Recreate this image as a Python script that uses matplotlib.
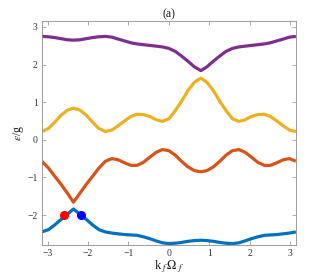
import matplotlib
matplotlib.use("Agg")
import matplotlib.pyplot as plt

k = [-3.14, -2.98, -2.83, -2.67, -2.51, -2.36, -2.20, -2.04, -1.88, -1.73, -1.57,
     -1.41, -1.26, -1.10, -0.94, -0.79, -0.63, -0.47, -0.31, -0.16, 0.00,
     0.16, 0.31, 0.47, 0.63, 0.79, 0.94, 1.10, 1.26, 1.41, 1.57,
     1.73, 1.88, 2.04, 2.20, 2.36, 2.51, 2.67, 2.83, 2.98, 3.14]

band4 = [2.75, 2.74, 2.72, 2.69, 2.66, 2.65, 2.66, 2.69, 2.72, 2.74, 2.75,
         2.73, 2.68, 2.63, 2.58, 2.55, 2.53, 2.51, 2.49, 2.47, 2.43,
         2.35, 2.23, 2.09, 1.94, 1.84, 1.94, 2.09, 2.23, 2.35, 2.43,
         2.47, 2.49, 2.51, 2.53, 2.55, 2.58, 2.63, 2.68, 2.73, 2.75]

band3 = [0.22, 0.30, 0.46, 0.65, 0.79, 0.84, 0.79, 0.65, 0.46, 0.30, 0.22,
         0.26, 0.37, 0.50, 0.62, 0.68, 0.67, 0.62, 0.53, 0.49, 0.56,
         0.78, 1.02, 1.31, 1.53, 1.64, 1.53, 1.31, 1.02, 0.78, 0.56,
         0.49, 0.53, 0.62, 0.67, 0.68, 0.62, 0.50, 0.37, 0.26, 0.22]

band2 = [-0.57, -0.75, -0.96, -1.18, -1.42, -1.66, -1.42, -1.18, -0.96, -0.75, -0.57,
         -0.50, -0.53, -0.61, -0.68, -0.68, -0.60, -0.46, -0.33, -0.26, -0.29,
         -0.41, -0.57, -0.72, -0.82, -0.85, -0.82, -0.72, -0.57, -0.41, -0.29,
         -0.26, -0.33, -0.46, -0.60, -0.68, -0.68, -0.61, -0.53, -0.50, -0.57]

band1 = [-2.45, -2.39, -2.27, -2.12, -1.98, -1.84, -1.98, -2.12, -2.27, -2.39, -2.45,
         -2.48, -2.50, -2.52, -2.53, -2.54, -2.58, -2.63, -2.69, -2.74, -2.76,
         -2.75, -2.73, -2.70, -2.68, -2.67, -2.68, -2.70, -2.73, -2.75, -2.76,
         -2.74, -2.69, -2.63, -2.58, -2.54, -2.53, -2.52, -2.50, -2.48, -2.45]

red_pt = (-2.59, -2.0)
blue_pt = (-2.18, -2.0)

xticks = [-3, -2, -1, 0, 1, 2, 3]
yticks = [-2, -1, 0, 1, 2, 3]

plt.rcParams['font.family'] = ['Liberation Serif', 'DejaVu Serif']
plt.rcParams['mathtext.fontset'] = 'stix'

fig = plt.figure(figsize=(3.27, 2.76), dpi=100)
ax = fig.add_axes([0.128, 0.112, 0.777, 0.812])

lw = 2.3
ax.plot(k, band4, color='#7E2F8E', lw=lw, solid_capstyle='butt')
ax.plot(k, band3, color='#EDB120', lw=lw, solid_capstyle='butt')
ax.plot(k, band2, color='#D95319', lw=lw, solid_capstyle='butt')
ax.plot(k, band1, color='#0072BD', lw=lw, solid_capstyle='butt')
ax.plot([red_pt[0]], [red_pt[1]], 'o', color='#FF0000', ms=5.5, zorder=5)
ax.plot([blue_pt[0]], [blue_pt[1]], 'o', color='#0000FF', ms=5.5, zorder=5)

ax.set_xlim(-3.14159, 3.14159)
ax.set_ylim(-2.8, 3.16)
ax.set_xticks(xticks)
ax.set_yticks(yticks)
ax.tick_params(direction='in', length=3, width=0.5, top=True, right=True,
               labelsize=7, colors='0.55', labelcolor='0.2', pad=3)
for s in ax.spines.values():
    s.set_color('0.55')
    s.set_linewidth(0.6)

ax.set_title('(a)', fontsize=8.5, pad=3, color='0.1')
ax.set_xlabel(r'k$_{\;f}\,\Omega_{\;f}$', fontsize=9, labelpad=0, color='0.1')
ax.set_ylabel(r'$\epsilon$/g', fontsize=8.5, labelpad=1, color='0.1')

fig.savefig('out.png', dpi=100)
